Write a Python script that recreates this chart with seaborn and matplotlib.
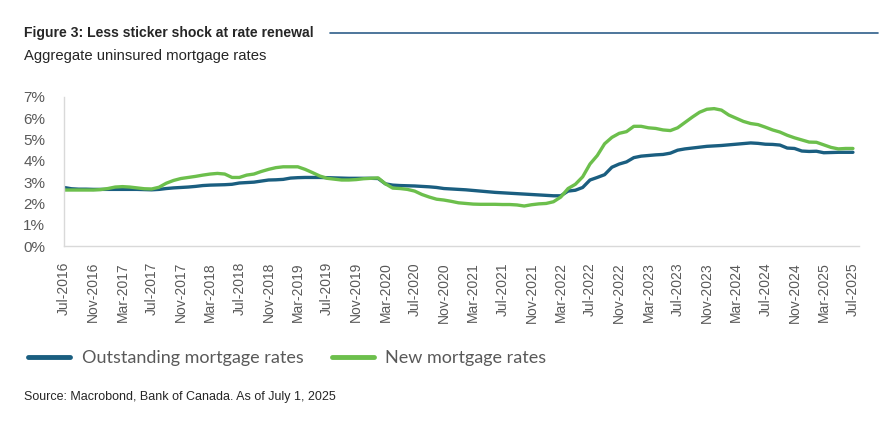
import numpy as np
import pandas as pd
import matplotlib
matplotlib.use("Agg")
import matplotlib.pyplot as plt
import seaborn as sns

# monthly values, Jul-2016 .. Jul-2025
outstanding = [
    2.75, 2.69, 2.67, 2.67, 2.66, 2.66, 2.66, 2.66, 2.66, 2.66, 2.66, 2.65,
    2.64, 2.66, 2.70, 2.73, 2.75, 2.77, 2.80, 2.84, 2.86, 2.87, 2.88, 2.90,
    2.96, 2.98, 3.00, 3.05, 3.10, 3.11, 3.13, 3.19, 3.21, 3.22, 3.22, 3.22,
    3.21, 3.20, 3.19, 3.18, 3.18, 3.18, 3.18, 3.17, 2.92, 2.86, 2.84, 2.83,
    2.82, 2.80, 2.78, 2.75, 2.70, 2.68, 2.66, 2.64, 2.61, 2.58, 2.55, 2.52,
    2.50, 2.48, 2.46, 2.44, 2.42, 2.40, 2.38, 2.36, 2.36, 2.58, 2.62, 2.75,
    3.10, 3.22, 3.35, 3.70, 3.85, 3.95, 4.15, 4.22, 4.25, 4.28, 4.30, 4.36,
    4.50, 4.56, 4.60, 4.64, 4.68, 4.70, 4.72, 4.75, 4.78, 4.81, 4.84, 4.82,
    4.78, 4.77, 4.74, 4.60, 4.58, 4.46, 4.44, 4.45, 4.38, 4.39, 4.40, 4.40,
    4.40,
]
new_rates = [
    2.63, 2.63, 2.63, 2.63, 2.63, 2.65, 2.70, 2.77, 2.79, 2.77, 2.73, 2.69,
    2.68, 2.76, 2.95, 3.08, 3.17, 3.22, 3.27, 3.33, 3.38, 3.41, 3.38, 3.22,
    3.22, 3.33, 3.38, 3.50, 3.60, 3.68, 3.72, 3.72, 3.72, 3.60, 3.45, 3.29,
    3.18, 3.14, 3.10, 3.10, 3.12, 3.16, 3.18, 3.20, 2.92, 2.72, 2.70, 2.66,
    2.58, 2.42, 2.30, 2.20, 2.16, 2.10, 2.03, 2.00, 1.97, 1.96, 1.96, 1.96,
    1.95, 1.95, 1.93, 1.88, 1.94, 1.98, 2.00, 2.08, 2.30, 2.70, 2.90, 3.25,
    3.85, 4.25, 4.80, 5.10, 5.29, 5.37, 5.62, 5.62, 5.55, 5.52, 5.45, 5.42,
    5.55, 5.80, 6.05, 6.28, 6.42, 6.45, 6.38, 6.15, 6.00, 5.85, 5.75, 5.70,
    5.58, 5.45, 5.35, 5.20, 5.08, 4.98, 4.88, 4.87, 4.75, 4.63, 4.56, 4.58,
    4.58,
]
tick_labels = [
    "Jul-2016", "Nov-2016", "Mar-2017", "Jul-2017", "Nov-2017", "Mar-2018",
    "Jul-2018", "Nov-2018", "Mar-2019", "Jul-2019", "Nov-2019", "Mar-2020",
    "Jul-2020", "Nov-2020", "Mar-2021", "Jul-2021", "Nov-2021", "Mar-2022",
    "Jul-2022", "Nov-2022", "Mar-2023", "Jul-2023", "Nov-2023", "Mar-2024",
    "Jul-2024", "Nov-2024", "Mar-2025", "Jul-2025",
]
series_names = ["Outstanding mortgage rates", "New mortgage rates"]
colors = ["#1a5e80", "#6cbf4c"]

month = np.arange(len(outstanding))
df = pd.DataFrame({
    "month": np.concatenate([month, month]),
    "rate": outstanding + new_rates,
    "series": [series_names[0]] * len(outstanding) + [series_names[1]] * len(new_rates),
})

sns.set_style("white")
plt.rcParams["font.family"] = ["Liberation Sans", "DejaVu Sans"]

fig = plt.figure(figsize=(8.93, 4.25), dpi=100)
ax = fig.add_axes([0.0717, 0.421, 0.890, 0.351])

sns.lineplot(data=df, x="month", y="rate", hue="series", palette=colors,
             linewidth=2.4, ax=ax, legend=False)

ax.set_xlim(0, 108.8)
ax.set_ylim(0, 7)
ax.set_xticks(np.arange(0, len(outstanding), 4))
ax.set_xticklabels(tick_labels, rotation=90)
ax.set_yticks(range(0, 8))
ax.set_yticklabels([f"{v}%" for v in range(0, 8)])
ax.set_xlabel("")
ax.set_ylabel("")
for s in ["top", "right"]:
    ax.spines[s].set_visible(False)
for s in ["left", "bottom"]:
    ax.spines[s].set_color("#d9d9d9")
    ax.spines[s].set_linewidth(1.0)
ax.tick_params(axis="both", colors="#d0d0d0", labelcolor="#595959",
               length=4.5, width=1, direction="out")
ax.tick_params(axis="x", labelsize=10, pad=7)
ax.tick_params(axis="y", labelsize=11, pad=9)

# header
fig.text(24 / 893, 1 - 33 / 425, "Figure 3: Less sticker shock at rate renewal",
         fontsize=10.1, fontweight="bold", va="center", ha="left")
fig.add_artist(plt.Line2D([330 / 893, 878 / 893], [1 - 33 / 425, 1 - 33 / 425],
                          color="#2f5f8a", linewidth=1.2))
fig.text(24 / 893, 1 - 56 / 425, "Aggregate uninsured mortgage rates",
         fontsize=10.7, va="center", ha="left")

# legend
handles = [plt.Line2D([], [], color=c, linewidth=3.5, solid_capstyle="round") for c in colors]
leg = fig.legend(handles, series_names, loc="center left",
                 bbox_to_anchor=(12 / 893, 1 - 358 / 425), ncol=2, frameon=False,
                 handlelength=2.3, columnspacing=1.6, handletextpad=0.65,
                 prop={"family": "Lato", "size": 13})
for t in leg.get_texts():
    t.set_color("#595959")

fig.text(24 / 893, 1 - 397 / 425, "Source: Macrobond, Bank of Canada. As of July 1, 2025",
         fontsize=9, va="center", ha="left")

fig.savefig("out.png", dpi=100)
